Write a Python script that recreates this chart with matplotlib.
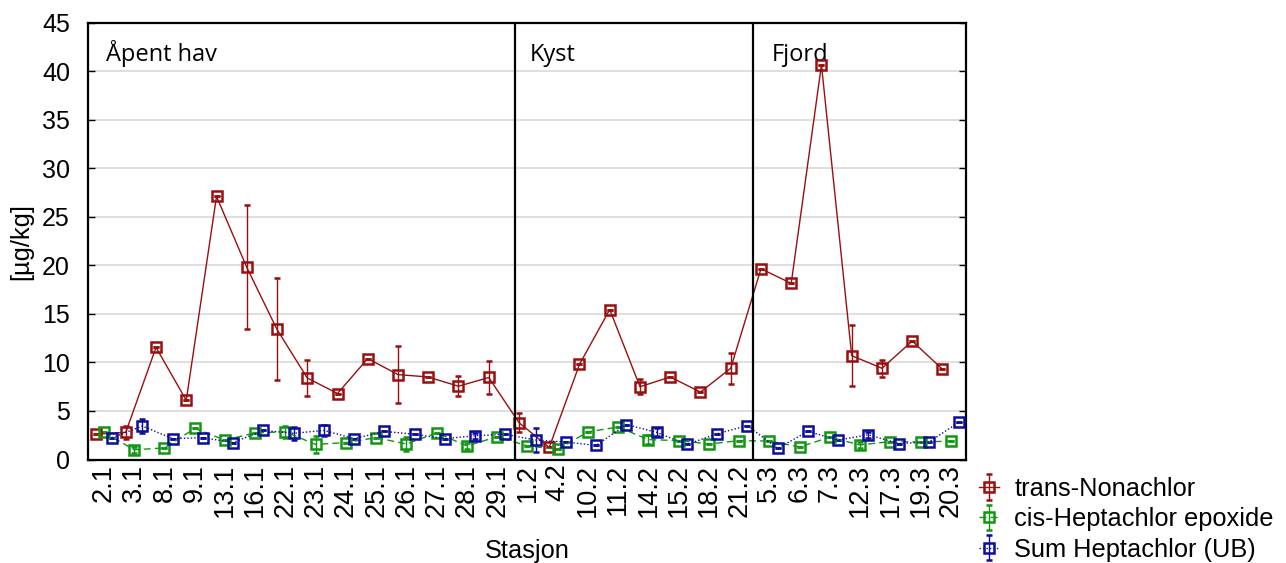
import matplotlib
matplotlib.use("Agg")
import matplotlib.pyplot as plt
import numpy as np

plt.rcParams['font.family'] = ['Liberation Sans', 'DejaVu Sans']

# station labels
stations = ["2.1", "3.1", "8.1", "9.1", "13.1", "16.1", "22.1", "23.1", "24.1", "25.1",
            "26.1", "27.1", "28.1", "29.1",
            "1.2", "4.2", "10.2", "11.2", "14.2", "15.2", "18.2", "21.2",
            "5.3", "6.3", "7.3", "12.3", "17.3", "19.3", "20.3"]

# trans-Nonachlor
trans_non = [2.6, 2.8, 11.55, 6.1, 27.1, 19.8, 13.4, 8.4, 6.8, 10.4,
             8.75, 8.5, 7.55, 8.45,
             3.8, 1.25, 9.8, 15.45, 7.5, 8.5, 6.95, 9.4,
             19.65, 18.15, 40.65, 10.7, 9.4, 12.2, 9.3]
trans_err = [0, 0.7, 0, 0, 0, 6.4, 5.25, 1.85, 0, 0,
             2.9, 0, 1.05, 1.65,
             0.95, 0, 0, 0, 0.8, 0, 0, 1.6,
             0, 0, 0, 3.15, 0.9, 0, 0]

# cis-Heptachlor epoxide
cis_hep = [2.8, 1.0, 1.2, 3.2, 2.0, 2.75, 2.85, 1.55, 1.75, 2.25,
           1.6, 2.75, 1.4, 2.35,
           1.4, 1.05, 2.85, 3.35, 2.05, 1.95, 1.6, 1.95,
           1.9, 1.3, 2.3, 1.5, 1.85, 1.8, 1.9]
cis_err = [0, 0.3, 0, 0, 0, 0, 0.6, 0.9, 0, 0,
           0.7, 0, 0.3, 0,
           0, 0, 0, 0, 0.5, 0, 0, 0,
           0, 0, 0, 0.3, 0, 0, 0]

# Sum Heptachlor (UB)
sum_hep = [2.25, 3.45, 2.15, 2.25, 1.75, 3.0, 2.7, 3.0, 2.15, 2.9,
           2.6, 2.15, 2.45, 2.6,
           2.0, 1.8, 1.45, 3.6, 2.8, 1.55, 2.65, 3.5,
           1.15, 2.9, 2.0, 2.55, 1.65, 1.8, 3.85]
sum_err = [0, 0.7, 0, 0, 0, 0, 0.7, 0.55, 0, 0,
           0, 0, 0.3, 0,
           1.2, 0, 0, 0, 0.4, 0, 0, 0,
           0, 0, 0, 0.3, 0, 0, 0]

regions = ["Åpent hav", "Kyst", "Fjord"]
region_start = [0, 14, 22]
dividers = [13.6, 21.45]

x = np.arange(len(stations))

fig = plt.figure(figsize=(12.86, 5.63), dpi=100)
ax = fig.add_axes([0.0684, 0.1838, 0.6828, 0.7759])

red = "#990f0f"
green = "#129612"
blue = "#0c0c9e"

ax.errorbar(x - 0.28, trans_non, yerr=trans_err, color=red, lw=1.0, ls='-',
            marker='s', ms=7, mfc='none', mec=red, mew=1.8, elinewidth=1.0,
            capsize=2.5, label="trans-Nonachlor", zorder=3)
ax.errorbar(x, cis_hep, yerr=cis_err, color=green, lw=1.0, ls=(0, (5, 3)),
            marker='s', ms=7, mfc='none', mec=green, mew=1.8, elinewidth=1.0,
            capsize=2.5, label="cis-Heptachlor epoxide", zorder=3)
ax.errorbar(x + 0.27, sum_hep, yerr=sum_err, color=blue, lw=1.0, ls=(0, (1, 1.5)),
            marker='s', ms=7, mfc='none', mec=blue, mew=1.8, elinewidth=1.0,
            capsize=2.5, label="Sum Heptachlor (UB)", zorder=3)

for d in dividers:
    ax.axvline(d, color='black', lw=1.6, zorder=4)

for name, s in zip(regions, region_start):
    ax.text(s + 0.06, 41.05, name, fontsize=17, family=['Open Sans', 'DejaVu Sans'],
            ha='left', va='baseline')

ax.set_xlim(-0.53, 28.5)
ax.set_ylim(0, 45)
ax.set_yticks(np.arange(0, 46, 5))
ax.yaxis.grid(True, color='#dcdcdc', lw=1.3)
ax.set_axisbelow(True)

ax.set_xticks(x)
ax.set_xticklabels(stations, rotation=90, fontsize=19.5)
ax.set_xticks(x[::2], minor=True)
ax.tick_params(axis='x', which='major', length=0, pad=3)
ax.tick_params(axis='x', which='minor', direction='in', length=5, width=1, top=True, bottom=True)
ax.tick_params(axis='y', direction='in', length=5, width=1, left=True, right=True,
               labelsize=18, pad=13)

for sp in ax.spines.values():
    sp.set_linewidth(1.6)

ax.set_xlabel("Stasjon", fontsize=18.3, labelpad=16)
ax.set_ylabel("[µg/kg]", fontsize=18.3, labelpad=6)

ax.legend(loc='lower left', bbox_to_anchor=(1.003, -0.257), frameon=False,
          fontsize=18.3, handlelength=0.8, handletextpad=0.6, labelspacing=0.25,
          borderaxespad=0)

fig.savefig("out.png", dpi=100)
